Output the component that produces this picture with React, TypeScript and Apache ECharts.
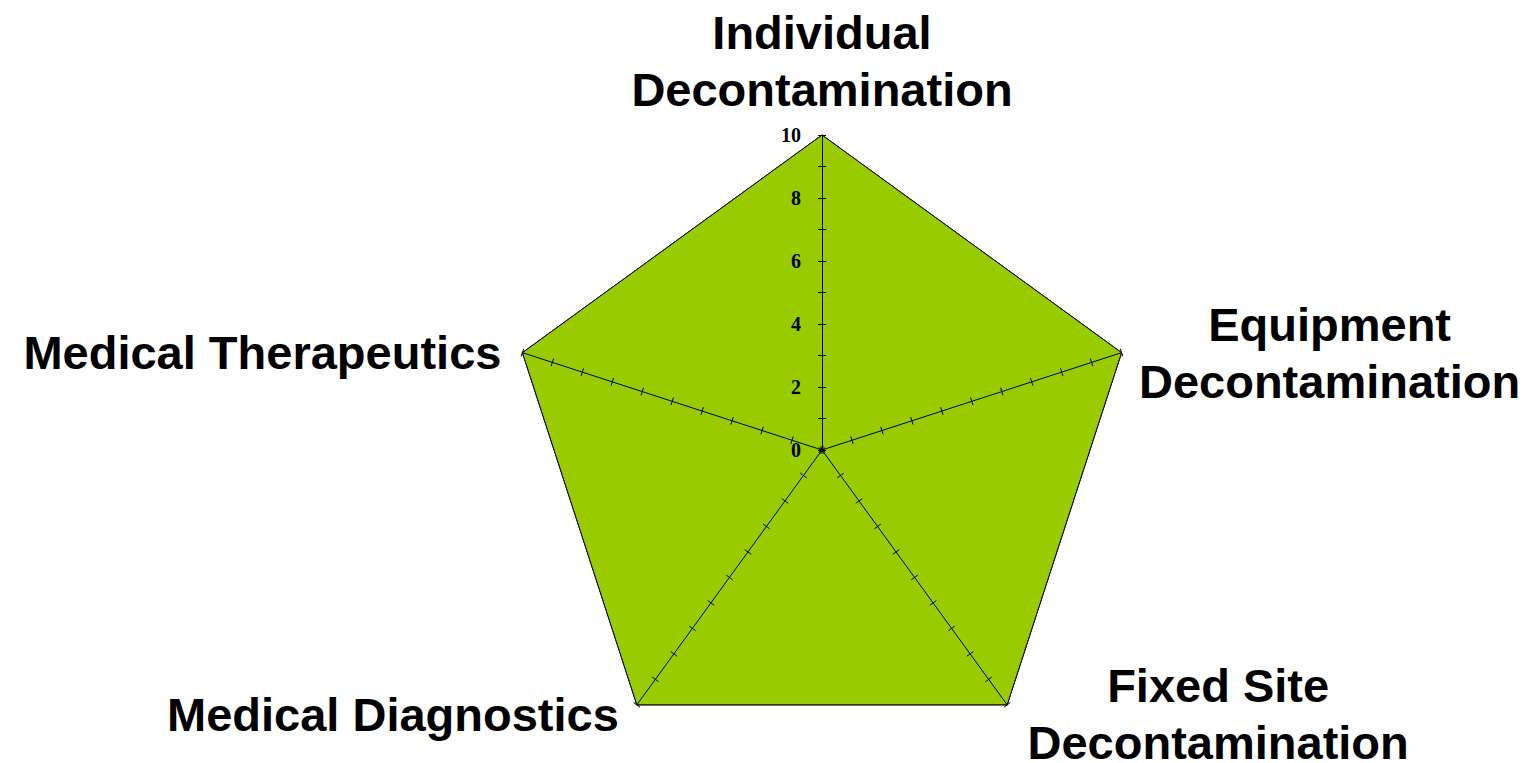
import React, { useEffect, useRef } from "react";
import * as echarts from "echarts";

// Indicators in ECharts' counter-clockwise order, starting at the top
const categories = [
  "Individual\nDecontamination",
  "Medical Therapeutics",
  "Medical Diagnostics",
  "Fixed Site\nDecontamination",
  "Equipment\nDecontamination",
];
const values = [10, 10, 10, 10, 10];
const axisMax = 10;
const tickLabels = [0, 2, 4, 6, 8, 10];

const CENTER: [number, number] = [822, 450];
const RADIUS = 315;

// label placement relative to each vertex: [dx, dy, align, vAlign]
const labelPlacement: [number, number, string, string][] = [
  [0, -74, "center", "middle"],
  [-21, 0, "right", "middle"],
  [-18, 10, "right", "middle"],
  [211, 9, "center", "middle"],
  [208, 0, "center", "middle"],
];

export default function App() {
  const ref = useRef<HTMLDivElement>(null);
  useEffect(() => {
    if (!ref.current) return;
    const chart = echarts.init(ref.current, null, { renderer: "svg" });
    const n = categories.length;
    const indicator = categories.map((name, i) => ({
      name,
      min: 0,
      max: axisMax,
      ...(i === 0
        ? {
            axisLabel: {
              show: true,
              color: "#000",
              fontFamily: "'Liberation Serif', 'Times New Roman', serif",
              fontWeight: "bold",
              fontSize: 20,
              margin: 21,
              showMinLabel: true,
              showMaxLabel: true,
              formatter: (v: number) => (tickLabels.includes(v) ? String(v) : ""),
            },
          }
        : {}),
    }));
    const indicatorPlain = categories.map((name) => ({ name, min: 0, max: axisMax }));
    const splitColors = Array.from({ length: 11 }, (_, k) => (k === 10 ? "#000" : "transparent"));
    const baseRadar = {
      center: CENTER,
      radius: RADIUS,
      startAngle: 90,
      shape: "polygon" as const,
      splitNumber: 10,
      axisName: { show: false },
      splitArea: { show: false },
    };
    const graphics = categories.map((name, i) => {
      const ang = Math.PI / 2 + (i * 2 * Math.PI) / n;
      const vx = CENTER[0] + RADIUS * Math.cos(ang);
      const vy = CENTER[1] - RADIUS * Math.sin(ang);
      const [dx, dy, align, vAlign] = labelPlacement[i];
      return {
        type: "text",
        x: vx + dx,
        y: vy + dy,
        z: 100,
        style: {
          text: name,
          fill: "#000",
          font: "bold 47px 'Liberation Sans', Arial, sans-serif",
          align,
          verticalAlign: vAlign,
          lineHeight: 57,
        },
      };
    });
    chart.setOption({
      animation: false,
      backgroundColor: "#fff",
      radar: [
        {
          ...baseRadar,
          indicator,
          splitLine: { show: false },
          axisLine: { show: true, lineStyle: { color: "#000", width: 1 } },
          axisTick: { show: true, length: 4, lineStyle: { color: "#000", width: 1 } },
          axisLabel: { show: false },
          z: 3,
        },
        {
          ...baseRadar,
          indicator: indicatorPlain,
          splitLine: { show: true, lineStyle: { color: splitColors, width: 1 } },
          axisLine: { show: false },
          axisTick: { show: true, length: -4, lineStyle: { color: "#000", width: 1 } },
          axisLabel: { show: false },
          z: 3,
        },
      ],
      graphic: graphics,
      series: [
        {
          type: "radar",
          radarIndex: 0,
          z: 1,
          symbol: "none",
          lineStyle: { color: "#000", width: 1, type: "solid" },
          areaStyle: { color: "#99CC00", opacity: 1 },
          data: [{ value: values, name: "Score" }],
        },
      ],
    });
    return () => chart.dispose();
  }, []);
  return (
    <div
      ref={ref}
      style={{ position: "fixed", left: 0, top: 0, width: 1535, height: 763 }}
    />
  );
}
